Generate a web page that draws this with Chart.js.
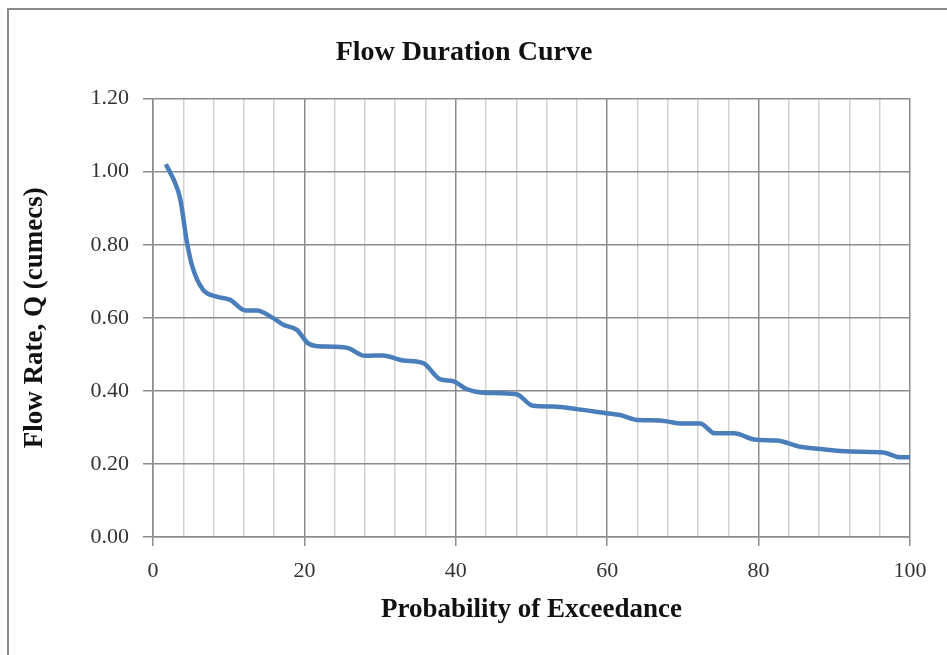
<!DOCTYPE html>
<html>
<head>
<meta charset="utf-8">
<script src="https://cdn.jsdelivr.net/npm/chart.js@4"></script>
<style>
    body { margin: 0; background: #fff; overflow: hidden; }
    #wrap { position: relative; width: 947px; height: 655px; }
    #frame { position: absolute; left: 7px; top: 8px; width: 1000px; height: 700px; border: 2px solid #8a8a8a; }
    #chart { position: absolute; left: 0; top: 0; }
</style>
</head>
<body>
<div id="wrap">
    <div id="frame"></div>
    <canvas id="chart" width="947" height="655"></canvas>
</div>
<script>
// Probability of exceedance (%)
const exceedance = [1.7, 2.9, 3.6, 4.5, 5.2, 6.6, 8.4, 10.2, 12.2, 13.7, 15.9, 17.2, 19.0, 20.5, 21.5,
    23.8, 25.8, 28.0, 30.4, 33.1, 35.7, 37.9, 39.7, 41.4, 43.6, 48.0, 50.2, 52.9, 56.0, 59.9,
    61.7, 64.1, 67.0, 69.6, 72.3, 74.2, 76.7, 79.7, 82.4, 85.5, 88.5, 92.1, 96.5, 98.7, 100];

// Flow rate Q (cumecs)
const flowRate = [1.02, 0.97, 0.925, 0.805, 0.74, 0.677, 0.658, 0.649, 0.62, 0.62, 0.599, 0.581, 0.567, 0.53, 0.523,
    0.521, 0.517, 0.496, 0.497, 0.483, 0.476, 0.432, 0.426, 0.405, 0.395, 0.391, 0.359, 0.357, 0.35, 0.339,
    0.334, 0.32, 0.319, 0.311, 0.311, 0.284, 0.284, 0.266, 0.264, 0.247, 0.24, 0.234, 0.231, 0.218, 0.218];

// Axis ticks
const xTicks = [0, 20, 40, 60, 80, 100];
const yTicks = [0, 0.2, 0.4, 0.6, 0.8, 1.0, 1.2];

const serif = '"Liberation Serif", "DejaVu Serif", serif';
const darkGrid = '#8c8c8c';
const lightGrid = '#d2d2d2';

// Points for the line
const points = exceedance.map((x, i) => ({ x: x, y: flowRate[i] }));

const ctx = document.getElementById('chart').getContext('2d');

new Chart(ctx, {
    type: 'line',
    data: {
        datasets: [{
            data: points,
            borderColor: '#4a7ebb',
            borderWidth: 4.5,
            pointRadius: 0,
            fill: false,
            tension: 0.4,
            cubicInterpolationMode: 'monotone',
        }],
    },
    options: {
        responsive: false,
        animation: false,
        layout: { padding: { left: 18, right: 37, top: 10, bottom: 10 } },
        plugins: {
            legend: { display: false },
            tooltip: { enabled: false },
            title: {
                display: true,
                text: 'Flow Duration Curve',
                color: '#111',
                font: { family: serif, size: 28, weight: 'bold' },
                padding: { top: 26, bottom: 29 },
            },
        },
        scales: {
            x: {
                type: 'linear',
                min: xTicks[0],
                max: xTicks[xTicks.length - 1],
                afterFit: scale => { scale.height = 108; },
                ticks: {
                    stepSize: 4,
                    autoSkip: false,
                    maxRotation: 0,
                    padding: 12,
                    color: '#333',
                    font: { family: serif, size: 22 },
                    callback: v => xTicks.includes(v) ? v : '',
                },
                grid: {
                    color: c => xTicks.includes(c.tick.value) ? darkGrid : lightGrid,
                    tickColor: c => xTicks.includes(c.tick.value) ? darkGrid : 'rgba(0,0,0,0)',
                    tickLength: 9,
                    lineWidth: 1.5,
                },
                border: { color: darkGrid, width: 1.5 },
                title: {
                    display: true,
                    text: 'Probability of Exceedance',
                    color: '#111',
                    font: { family: serif, size: 27, weight: 'bold' },
                    padding: { top: 0, bottom: 19 },
                },
            },
            y: {
                min: yTicks[0],
                max: yTicks[yTicks.length - 1],
                afterFit: scale => { scale.width = 135; },
                ticks: {
                    stepSize: 0.2,
                    padding: 14,
                    color: '#333',
                    font: { family: serif, size: 22 },
                    callback: v => v.toFixed(2),
                },
                grid: {
                    color: darkGrid,
                    tickLength: 10,
                    lineWidth: 1.5,
                },
                border: { color: darkGrid, width: 1.5 },
                title: {
                    display: true,
                    text: 'Flow Rate, Q (cumecs)',
                    color: '#111',
                    font: { family: serif, size: 27, weight: 'bold' },
                    padding: { top: 1, bottom: 0 },
                },
            },
        },
    },
});
</script>
</body>
</html>
